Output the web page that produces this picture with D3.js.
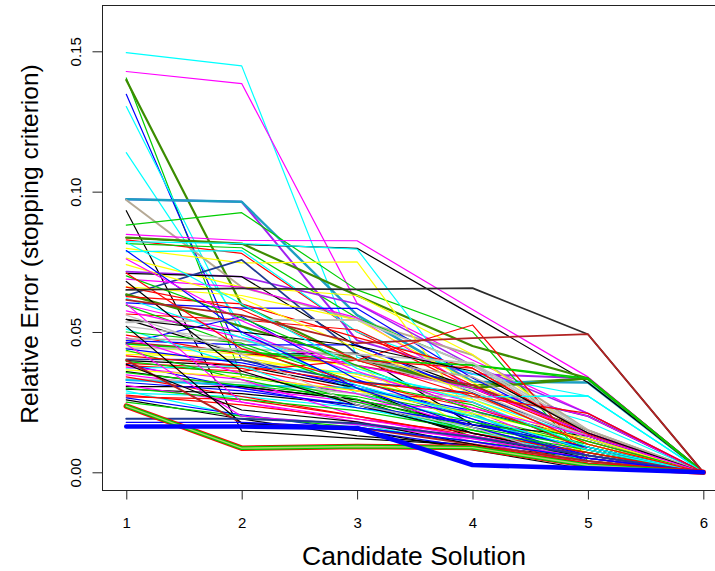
<!DOCTYPE html>
<html>
<head>
<meta charset="utf-8">
<script src="https://cdn.jsdelivr.net/npm/d3@7"></script>
<style>
  html, body { margin: 0; padding: 0; background: #ffffff; overflow: hidden; }
  text { font-family: Arial, "Liberation Sans", Helvetica, sans-serif; fill: #000; }
</style>
</head>
<body>
<svg id="chart" width="715" height="571"></svg>
<script>
// Candidate solutions along the x axis
const candidates = [1, 2, 3, 4, 5, 6];

// Relative error (stopping criterion) of each run at candidate 1..6
const seriesValues = [
  [0.1495, 0.1448, 0.0410, 0.0300, 0.0180, 0],
  [0.1428, 0.1385, 0.0602, 0.0400, 0.0210, 0],
  [0.1405, 0.0340, 0.0280, 0.0200, 0.0100, 0],
  [0.1398, 0.0596, 0.0400, 0.0310, 0.0335, 0],
  [0.1347, 0.0400, 0.0300, 0.0220, 0.0120, 0],
  [0.1303, 0.0490, 0.0350, 0.0270, 0.0272, 0],
  [0.1139, 0.0520, 0.0280, 0.0180, 0.0080, 0],
  [0.0973, 0.0964, 0.0470, 0.0350, 0.0335, 0],
  [0.0973, 0.0964, 0.0560, 0.0323, 0.0320, 0],
  [0.0970, 0.0660, 0.0543, 0.0418, 0.0150, 0],
  [0.0932, 0.0147, 0.0120, 0.0097, 0.0050, 0],
  [0.0881, 0.0925, 0.0650, 0.0501, 0.0040, 0],
  [0.0848, 0.0826, 0.0825, 0.0580, 0.0340, 0],
  [0.0836, 0.0812, 0.0798, 0.0560, 0.0320, 0],
  [0.0836, 0.0815, 0.0630, 0.0450, 0.0335, 0],
  [0.0828, 0.0780, 0.0500, 0.0300, 0.0130, 0],
  [0.0822, 0.0815, 0.0795, 0.0260, 0.0120, 0],
  [0.0815, 0.0800, 0.0550, 0.0380, 0.0330, 0],
  [0.0798, 0.0746, 0.0750, 0.0200, 0.0090, 0],
  [0.0786, 0.0790, 0.0500, 0.0350, 0.0272, 0],
  [0.0763, 0.0660, 0.0630, 0.0420, 0.0130, 0],
  [0.0715, 0.0697, 0.0600, 0.0380, 0.0210, 0],
  [0.0709, 0.0697, 0.0450, 0.0300, 0.0150, 0],
  [0.0630, 0.0757, 0.0420, 0.0300, 0.0200, 0],
  [0.0688, 0.0660, 0.0550, 0.0300, 0.0200, 0],
  [0.0661, 0.0630, 0.0543, 0.0320, 0.0140, 0],
  [0.0604, 0.0585, 0.0584, 0.0336, 0.0130, 0],
  [0.0634, 0.0520, 0.0400, 0.0300, 0.0335, 0],
  [0.0626, 0.0600, 0.0480, 0.0371, 0.0140, 0],
  [0.0596, 0.0500, 0.0350, 0.0250, 0.0080, 0],
  [0.0564, 0.0543, 0.0507, 0.0311, 0.0130, 0],
  [0.0545, 0.0420, 0.0425, 0.0169, 0.0090, 0],
  [0.0535, 0.0543, 0.0543, 0.0382, 0.0140, 0],
  [0.0489, 0.0420, 0.0400, 0.0525, 0.0050, 0],
  [0.0469, 0.0454, 0.0454, 0.0282, 0.0100, 0],
  [0.0462, 0.0430, 0.0380, 0.0311, 0.0140, 0],
  [0.0457, 0.0430, 0.0400, 0.0382, 0.0335, 0],
  [0.0450, 0.0420, 0.0380, 0.0150, 0.0060, 0],
  [0.0442, 0.0440, 0.0420, 0.0390, 0.0150, 0],
  [0.0430, 0.0400, 0.0350, 0.0260, 0.0100, 0],
  [0.0420, 0.0410, 0.0340, 0.0200, 0.0070, 0],
  [0.0403, 0.0400, 0.0323, 0.0282, 0.0120, 0],
  [0.0398, 0.0380, 0.0300, 0.0139, 0.0060, 0],
  [0.0388, 0.0370, 0.0290, 0.0250, 0.0080, 0],
  [0.0380, 0.0360, 0.0400, 0.0371, 0.0135, 0],
  [0.0371, 0.0377, 0.0354, 0.0269, 0.0272, 0],
  [0.0359, 0.0305, 0.0260, 0.0126, 0.0050, 0],
  [0.0347, 0.0300, 0.0250, 0.0220, 0.0060, 0],
  [0.0333, 0.0320, 0.0280, 0.0269, 0.0130, 0],
  [0.0329, 0.0310, 0.0300, 0.0210, 0.0030, 0],
  [0.0305, 0.0305, 0.0258, 0.0169, 0.0130, 0],
  [0.0296, 0.0280, 0.0240, 0.0139, 0.0070, 0],
  [0.0282, 0.0270, 0.0230, 0.0160, 0.0040, 0],
  [0.0269, 0.0260, 0.0200, 0.0126, 0.0030, 0],
  [0.0258, 0.0190, 0.0130, 0.0097, 0.0020, 0],
  [0.0595, 0.0450, 0.0300, 0.0126, 0.0040, 0],
  [0.0460, 0.0555, 0.0330, 0.0190, 0.0080, 0],
  [0.0575, 0.0480, 0.0380, 0.0300, 0.0140, 0],
  [0.0520, 0.0470, 0.0400, 0.0290, 0.0120, 0],
  [0.0510, 0.0380, 0.0230, 0.0150, 0.0050, 0],
  [0.0500, 0.0460, 0.0320, 0.0240, 0.0090, 0],
  [0.0480, 0.0350, 0.0280, 0.0160, 0.0060, 0],
  [0.0475, 0.0470, 0.0400, 0.0340, 0.0150, 0],
  [0.0440, 0.0390, 0.0310, 0.0190, 0.0040, 0],
  [0.0435, 0.0330, 0.0250, 0.0150, 0.0070, 0],
  [0.0415, 0.0380, 0.0320, 0.0230, 0.0110, 0],
  [0.0395, 0.0350, 0.0260, 0.0160, 0.0090, 0],
  [0.0385, 0.0300, 0.0230, 0.0180, 0.0060, 0],
  [0.0375, 0.0330, 0.0200, 0.0110, 0.0030, 0],
  [0.0365, 0.0340, 0.0290, 0.0210, 0.0120, 0],
  [0.0355, 0.0310, 0.0270, 0.0180, 0.0100, 0],
  [0.0340, 0.0270, 0.0200, 0.0130, 0.0060, 0],
  [0.0320, 0.0290, 0.0240, 0.0170, 0.0090, 0],
  [0.0310, 0.0250, 0.0180, 0.0120, 0.0050, 0],
  [0.0300, 0.0260, 0.0220, 0.0150, 0.0080, 0],
  [0.0290, 0.0200, 0.0170, 0.0100, 0.0040, 0],
  [0.0275, 0.0240, 0.0190, 0.0140, 0.0070, 0],
  [0.0265, 0.0205, 0.0150, 0.0090, 0.0030, 0],
  [0.0250, 0.0200, 0.0160, 0.0110, 0.0060, 0],
  [0.0660, 0.0580, 0.0400, 0.0270, 0.0210, 0],
  [0.0620, 0.0480, 0.0310, 0.0200, 0.0080, 0],
  [0.0545, 0.0500, 0.0450, 0.0360, 0.0140, 0],
  [0.0700, 0.0550, 0.0380, 0.0220, 0.0110, 0],
  [0.0740, 0.0620, 0.0440, 0.0280, 0.0100, 0],
  [0.0820, 0.0600, 0.0370, 0.0250, 0.0090, 0],
  [0.0790, 0.0500, 0.0300, 0.0160, 0.0060, 0],
  [0.0760, 0.0540, 0.0360, 0.0230, 0.0130, 0],
  [0.0710, 0.0440, 0.0320, 0.0280, 0.0100, 0],
  [0.0680, 0.0360, 0.0240, 0.0140, 0.0050, 0],
  [0.0600, 0.0250, 0.0190, 0.0130, 0.0060, 0],
  [0.0560, 0.0420, 0.0240, 0.0160, 0.0030, 0],
  [0.0400, 0.0175, 0.0160, 0.0100, 0.0040, 0],
  [0.0455, 0.0200, 0.0170, 0.0120, 0.0050, 0],
  [0.0385, 0.0222, 0.0180, 0.0100, 0.0020, 0],
  [0.0520, 0.0175, 0.0150, 0.0080, 0.0010, 0],
  [0.0650, 0.0655, 0.0652, 0.0656, 0.0492, 0],
  [0.0614, 0.0560, 0.0460, 0.0478, 0.0492, 0],
  [0.0191, 0.0191, 0.0175, 0.0126, 0.0060, 0],
  [0.0178, 0.0178, 0.0160, 0.0110, 0.0050, 0],
  [0.0236, 0.0086, 0.0092, 0.0088, 0.0025, 0],
  [0.0236, 0.0086, 0.0092, 0.0088, 0.0025, 0],
  [0.0236, 0.0086, 0.0092, 0.0088, 0.0025, 0],
  [0.0163, 0.0163, 0.0158, 0.0026, 0.0014, 0]
];

// Stroke colour of each run (R palette names)
const seriesColors = [
  "#00FFFF", "#FF00FF", "#00CD00", "#3C8C00", "#0000FF", "#00FFFF", "#00FFFF",
  "#A020F0", "#1C9FC2", "#B5A995", "#000000", "#00CD00", "#FF00FF", "#000000",
  "#3C8C00", "#FF0000", "#00FFFF", "#00CD00", "#FFFF00", "#00FFFF", "#FFFF00",
  "#A020F0", "#000000", "#1F3A93", "#FF00FF", "#FFFF00", "#0000FF", "#3C8C00",
  "#FF0000", "#FF00FF", "#FF0000", "#000000", "#BEBEBE", "#FF0000", "#0000FF",
  "#B22222", "#00CD00", "#FFFF00", "#BEBEBE", "#FFFF00", "#FFFF00", "#1F3A93",
  "#000000", "#FF0000", "#FF0000", "#00FFFF", "#000000", "#FF00FF", "#BEBEBE",
  "#00BFEF", "#000000", "#000000", "#00FFFF", "#FF0000", "#000000",
  "#00CD00", "#0000FF", "#FF00FF", "#BEBEBE", "#00FFFF", "#00CD00", "#FF00FF",
  "#B5A995", "#0000FF", "#00CD00", "#FF0000", "#00CD00", "#0000FF", "#FF00FF",
  "#FFFF00", "#00CD00", "#FF0000", "#0000FF", "#FF00FF", "#00CD00", "#00FFFF",
  "#FF0000", "#0000FF", "#00CD00", "#FF0000", "#00FFFF", "#000000", "#00CD00",
  "#FFFF00", "#00FFFF", "#0000FF", "#FF00FF", "#FF0000", "#000000", "#FF00FF",
  "#BEBEBE", "#B22222", "#FF00FF", "#000000", "#000000",
  "#2B2B2B", "#B22222", "#1F3A93", "#0000FF",
  "#FF0000", "#00CD00", "#B5D56A", "#0000FF"
];

// Stroke width of each run
const seriesWidths = [
  1.2, 1.2, 1.2, 2.2, 1.2, 1.2, 1.2,
  2, 2.4, 2, 1.2, 1.2, 1.2, 1.2,
  2.2, 1.2, 1.2, 1.2, 1.2, 1.2, 1.2,
  1.6, 1.2, 1.8, 1.2, 1.2, 1.2, 2.2,
  1.2, 1.2, 1.2, 1.2, 2, 1.2, 1.2,
  1.6, 1.6, 1.2, 1.8, 1.2, 1.2, 1.6,
  1.2, 1.2, 1.2, 1.2, 1.2, 1.2, 1.6,
  2, 1.2, 1.2, 1.2, 1.2, 1.2,
  1.2, 1.2, 1.2, 1.2, 1.2, 1.2, 1.2,
  1.6, 1.2, 1.2, 1.2, 1.2, 1.2, 1.2,
  1.2, 1.2, 1.2, 1.2, 1.2, 1.2, 1.2,
  1.2, 1.2, 1.2, 1.2, 1.2, 1.2, 1.2,
  1.2, 1.2, 1.2, 1.2, 1.2, 1.2, 1.2,
  1.2, 2, 1.2, 1.2, 1.2,
  1.8, 1.8, 2, 1.4,
  5.5, 3.8, 1.4, 4.6
];

const xTickLabels = ["1", "2", "3", "4", "5", "6"];
const yTickValues = [0, 0.05, 0.10, 0.15];
const yTickLabels = ["0.00", "0.05", "0.10", "0.15"];

const svg = d3.select("#chart");

// Plot region (box extends past the right edge of the window)
const x = d3.scaleLinear().domain([0.8, 6.2]).range([103.2, 726.4]);
const y = d3.scaleLinear().domain([-0.00666, 0.1665]).range([491, 5]);

const line = d3.line()
  .x((d, i) => x(candidates[i]))
  .y(d => y(d));

svg.append("g")
  .selectAll("path")
  .data(seriesValues)
  .join("path")
  .attr("d", d => line(d))
  .attr("fill", "none")
  .attr("stroke", (d, i) => seriesColors[i])
  .attr("stroke-width", (d, i) => seriesWidths[i])
  .attr("stroke-linejoin", "round")
  .attr("stroke-linecap", "round");

// Box around the plot region
svg.append("rect")
  .attr("x", 102.5).attr("y", 5.5)
  .attr("width", 726.4 - 102.5).attr("height", 490.5 - 5.5)
  .attr("fill", "none")
  .attr("stroke", "#222")
  .attr("stroke-width", 1);

// X axis
const xAxis = svg.append("g")
  .attr("transform", "translate(0,490.5)")
  .call(d3.axisBottom(x)
    .tickValues(candidates)
    .tickSize(9)
    .tickSizeOuter(0)
    .tickFormat((d, i) => xTickLabels[i]));
xAxis.select(".domain").remove();
xAxis.selectAll(".tick line").attr("stroke", "#222");
xAxis.selectAll(".tick text")
  .attr("y", 37).attr("dy", 0)
  .style("font-size", "15px")
  .style("font-family", "Arial, 'Liberation Sans', Helvetica, sans-serif")
  .attr("fill", "#000");

// Y axis with labels parallel to the axis
const yAxis = svg.append("g")
  .attr("transform", "translate(102.5,0)")
  .call(d3.axisLeft(y)
    .tickValues(yTickValues)
    .tickSize(10)
    .tickSizeOuter(0)
    .tickFormat((d, i) => yTickLabels[i]));
yAxis.select(".domain").remove();
yAxis.selectAll(".tick line").attr("stroke", "#222");
yAxis.selectAll(".tick text")
  .attr("x", 0).attr("y", 0).attr("dy", 0)
  .attr("text-anchor", "middle")
  .attr("transform", "translate(-22,0) rotate(-90)")
  .style("font-size", "15px")
  .style("font-family", "Arial, 'Liberation Sans', Helvetica, sans-serif")
  .attr("fill", "#000");

// Axis titles
svg.append("text")
  .attr("x", 414).attr("y", 565)
  .attr("text-anchor", "middle")
  .style("font-size", "26.5px")
  .text("Candidate Solution");

svg.append("text")
  .attr("transform", "translate(38,244) rotate(-90)")
  .attr("text-anchor", "middle")
  .style("font-size", "24.5px")
  .text("Relative Error (stopping criterion)");
</script>
</body>
</html>
